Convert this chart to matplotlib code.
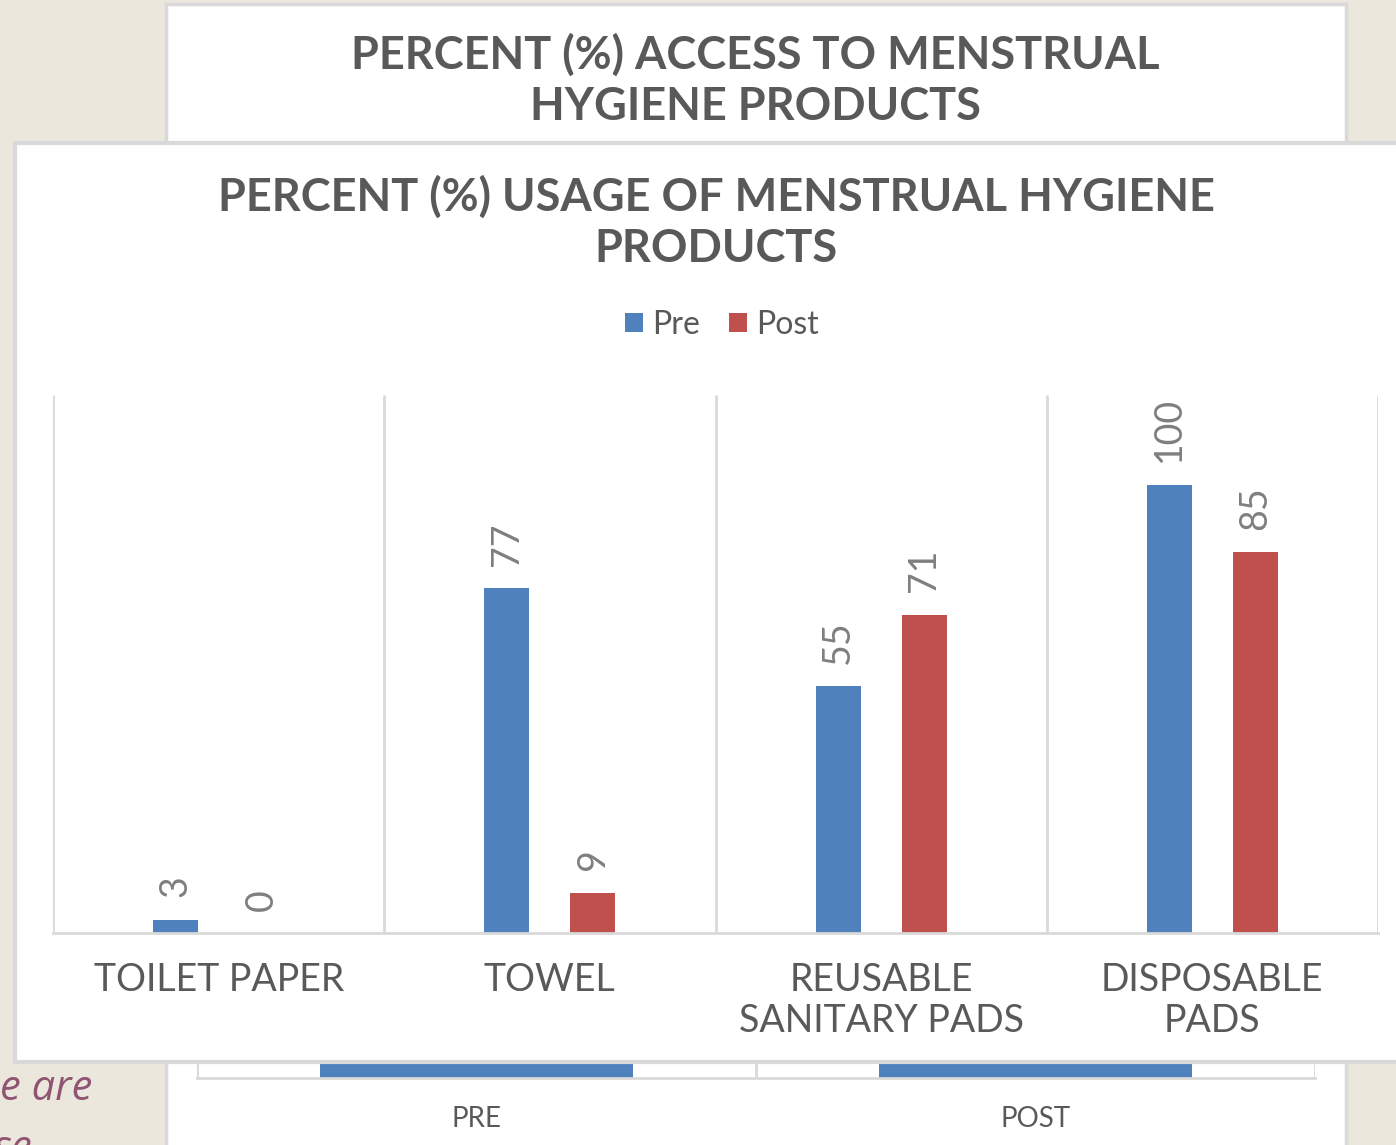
import numpy as np
import matplotlib.pyplot as plt
from matplotlib.patches import Rectangle

# foreground chart data
categories = ["TOILET PAPER", "TOWEL", "REUSABLE\nSANITARY PADS", "DISPOSABLE\nPADS"]
pre_usage = [3, 77, 55, 100]
post_usage = [0, 9, 71, 85]
series_names = ["Pre", "Post"]

# background chart (mostly hidden behind the front one)
bg_categories = ["PRE", "POST"]
bg_values = [60, 60]

BLUE = "#4F81BD"
RED = "#C0504D"
TEXT = "#595959"
GRID = "#D9D9D9"
SLIDE = "#EBE7DD"

W, H = 1396, 1145
fig = plt.figure(figsize=(W / 100, H / 100), dpi=100, facecolor=SLIDE)


def fx(px):
    return px / W


def fy(py):
    return 1 - py / H


# text on the slide behind the charts
fig.text(fx(0), fy(1100), "e are", fontsize=30, style="italic", family="Open Sans",
         color="#905473", ha="left", va="baseline", zorder=0.2)
fig.text(fx(-6), fy(1160), "se", fontsize=30, style="italic", family="Open Sans",
         color="#905473", ha="left", va="baseline", zorder=0.2)

# background chart box
fig.add_artist(Rectangle((fx(166), fy(1170)), fx(1346) - fx(166), fy(4) - fy(1170),
                         transform=fig.transFigure, facecolor="white", edgecolor=GRID,
                         linewidth=2.5, zorder=0.5))
fig.text(fx(755), fy(81), "PERCENT (%) ACCESS TO MENSTRUAL\nHYGIENE PRODUCTS", ha="center",
         va="center", fontsize=32.5, fontweight="bold", family="Lato", color=TEXT,
         linespacing=1.27, zorder=0.6)

bg_ax = fig.add_axes([fx(197), fy(1078), fx(1315) - fx(197), fy(400) - fy(1078)], zorder=1)
bg_ax.set_facecolor("none")
bg_x = np.arange(len(bg_categories))
bg_ax.bar(bg_x, bg_values, width=0.56, color=BLUE, zorder=2)
bg_ax.vlines(np.arange(len(bg_categories) + 1) - 0.5, 0, 100, color=GRID, linewidth=2, zorder=1)
bg_ax.set_xlim(-0.5, len(bg_categories) - 0.5)
bg_ax.set_ylim(0, 100)
bg_ax.set_xticks(bg_x)
bg_ax.set_xticklabels(bg_categories, fontsize=20, family="Lato", color=TEXT)
bg_ax.tick_params(axis="x", length=0, pad=20)
bg_ax.set_yticks([])
for s in ["top", "left", "right"]:
    bg_ax.spines[s].set_visible(False)
bg_ax.spines["bottom"].set_color(GRID)
bg_ax.spines["bottom"].set_linewidth(2)

# front chart box
fig.add_artist(Rectangle((fx(15), fy(1062)), fx(1420) - fx(15), fy(143) - fy(1062),
                         transform=fig.transFigure, facecolor="white", edgecolor=GRID,
                         linewidth=3, zorder=2))
fig.text(fx(716), fy(223), "PERCENT (%) USAGE OF MENSTRUAL HYGIENE\nPRODUCTS", ha="center",
         va="center", fontsize=32.5, fontweight="bold", family="Lato", color=TEXT,
         linespacing=1.27, zorder=3)

ax = fig.add_axes([fx(53), fy(933), fx(1378) - fx(53), fy(395) - fy(933)], zorder=3)
ax.set_facecolor("none")
x = np.arange(len(categories))
bw = 0.136
b1 = ax.bar(x - 0.13, pre_usage, width=bw, color=BLUE, label=series_names[0], zorder=2)
b2 = ax.bar(x + 0.13, post_usage, width=bw, color=RED, label=series_names[1], zorder=2)
for bars in (b1, b2):
    ax.bar_label(bars, padding=16, rotation=90, fontsize=27, family="Lato",
                 color="#7F7F7F")

ax.vlines(np.arange(len(categories) + 1) - 0.5, 0, 120, color=GRID, linewidth=2, zorder=1)
ax.set_xlim(-0.5, len(categories) - 0.5)
ax.set_ylim(0, 120)
ax.set_xticks(x)
ax.set_xticklabels(categories, fontsize=27, family="Lato", color=TEXT, linespacing=1.15)
ax.tick_params(axis="x", length=0, pad=21)
ax.set_yticks([])
for s in ["top", "left", "right"]:
    ax.spines[s].set_visible(False)
ax.spines["bottom"].set_color(GRID)
ax.spines["bottom"].set_linewidth(2)

leg = fig.legend(handles=[b1, b2], loc="center", bbox_to_anchor=(fx(722), fy(325)), ncol=2,
                 frameon=False, handlelength=0.55, handleheight=0.55, handletextpad=0.3,
                 columnspacing=0.9, prop={"family": "Lato", "size": 23})
for t in leg.get_texts():
    t.set_color(TEXT)
leg.set_zorder(4)

fig.savefig("out.png", dpi=100, facecolor=SLIDE)
